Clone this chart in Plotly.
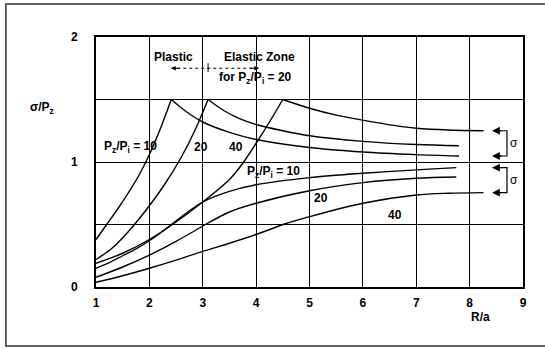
import plotly.graph_objects as go

# ---------------- data ----------------
# tangential stress, plastic zone (rising) and elastic zone (decaying)
r_t10_pl = [1.0, 1.2, 1.4, 1.6, 1.8, 2.0, 2.2, 2.41]
s_t10_pl = [0.38, 0.5, 0.62, 0.75, 0.89, 1.06, 1.26, 1.5]
r_t10_el = [2.41, 2.7, 3.0, 3.5, 4.0, 5.0, 6.0, 7.0, 7.8]
s_t10_el = [1.5, 1.40, 1.32, 1.237, 1.18, 1.116, 1.08, 1.059, 1.048]

r_t20_pl = [1.0, 1.3, 1.6, 2.0, 2.3, 2.6, 2.85, 3.1]
s_t20_pl = [0.22, 0.31, 0.44, 0.65, 0.83, 1.04, 1.25, 1.5]
r_t20_el = [3.1, 3.4, 3.7, 4.0, 4.5, 5.0, 6.0, 7.0, 7.8]
s_t20_el = [1.5, 1.41, 1.345, 1.30, 1.25, 1.21, 1.165, 1.14, 1.13]

r_t40_pl = [1.0, 1.5, 2.0, 2.5, 3.0, 3.5, 3.75, 4.0, 4.25, 4.5]
s_t40_pl = [0.19, 0.27, 0.38, 0.52, 0.68, 0.86, 0.99, 1.15, 1.32, 1.5]
r_t40_el = [4.5, 5.0, 5.5, 6.0, 6.7, 7.0, 7.6, 8.26]
s_t40_el = [1.5, 1.43, 1.375, 1.335, 1.285, 1.27, 1.256, 1.25]

# radial stress
r_r10_pl = [1.0, 1.25, 1.5, 1.75, 2.0, 2.2, 2.41]
s_r10_pl = [0.15, 0.195, 0.25, 0.305, 0.37, 0.43, 0.5]
r_r10_el = [2.41, 3.0, 3.5, 4.0, 5.0, 6.0, 7.0, 7.75]
s_r10_el = [0.5, 0.68, 0.765, 0.818, 0.875, 0.91, 0.937, 0.955]

r_r20_pl = [1.0, 1.5, 2.0, 2.5, 3.05]
s_r20_pl = [0.078, 0.16, 0.255, 0.365, 0.5]
r_r20_el = [3.05, 3.5, 4.0, 5.0, 6.0, 7.0, 7.75]
s_r20_el = [0.5, 0.6, 0.67, 0.77, 0.835, 0.87, 0.88]

r_r40_pl = [1.0, 1.5, 2.0, 2.5, 3.0, 3.5, 4.0, 4.5]
s_r40_pl = [0.038, 0.09, 0.15, 0.215, 0.285, 0.35, 0.42, 0.5]
r_r40_el = [4.5, 5.0, 6.0, 7.0, 7.6, 8.26]
s_r40_el = [0.5, 0.5625, 0.67, 0.736, 0.75, 0.755]

x_ticks = [1, 2, 3, 4, 5, 6, 7, 8, 9]
y_ticks = [0, 0.5, 1, 1.5, 2]
y_ticktext = ["0", "", "1", "", "2"]

FONT = "Arial, Liberation Sans, sans-serif"

fig = go.Figure()
curves = [
    (r_t10_pl, s_t10_pl), (r_t10_el, s_t10_el),
    (r_t20_pl, s_t20_pl), (r_t20_el, s_t20_el),
    (r_t40_pl, s_t40_pl), (r_t40_el, s_t40_el),
    (r_r10_pl, s_r10_pl), (r_r10_el, s_r10_el),
    (r_r20_pl, s_r20_pl), (r_r20_el, s_r20_el),
    (r_r40_pl, s_r40_pl), (r_r40_el, s_r40_el),
]
for xs, ys in curves:
    fig.add_trace(go.Scatter(x=xs, y=ys, mode="lines",
                             line=dict(color="black", width=1.4, shape="spline", smoothing=0.9),
                             showlegend=False, hoverinfo="skip"))

ann = []
def label(text, x, y, size=12, bold=True, xref="x", yref="y"):
    ann.append(dict(text=("<b>%s</b>" % text) if bold else text, x=x, y=y, xref=xref, yref=yref,
                    xanchor="center", yanchor="middle",
                    showarrow=False, font=dict(family=FONT, size=size, color="black")))

label("P<sub>z</sub>/P<sub>i</sub> = 10", 1.64, 1.12)
label("20", 2.97, 1.12)
label("40", 3.62, 1.12)
label("P<sub>z</sub>/P<sub>i</sub> = 10", 4.33, 0.92)
label("20", 5.21, 0.71)
label("40", 6.6, 0.576)
label("Plastic", 2.46, 1.84)
label("Elastic Zone", 4.06, 1.84)
label("for P<sub>z</sub>/P<sub>i</sub> = 20", 3.99, 1.67)
label("σ/P<sub>z</sub>", -0.127, 0.716, xref="paper", yref="paper")
label("R/a", 8.2, -0.12, yref="paper")
label("σ", 8.84, 1.15, size=12, bold=False)
label("σ", 8.84, 0.855, size=12, bold=False)

# plastic / elastic arrow (dotted line with arrow heads)
for hx, tx in [(2.41, 2.6), (4.05, 3.86)]:
    ann.append(dict(x=hx, y=1.75, ax=tx, ay=1.75, xref="x", yref="y", axref="x", ayref="y",
                    text="", showarrow=True, arrowhead=2, arrowsize=0.9, arrowwidth=1, arrowcolor="black"))

# sigma bracket arrow heads
bracket_top = [s_t40_el[-1], s_r10_el[-1]]
bracket_bot = [s_t10_el[-1], s_r40_el[-1]]
for yy in bracket_top + bracket_bot:
    ann.append(dict(x=8.42, y=yy, ax=8.62, ay=yy, xref="x", yref="y", axref="x", ayref="y",
                    text="", showarrow=True, arrowhead=2, arrowsize=1.2, arrowwidth=1.3, arrowcolor="black"))

shapes = []
shapes.append(dict(type="line", x0=2.41, x1=4.05, y0=1.75, y1=1.75, xref="x", yref="y",
                   line=dict(color="black", width=1, dash="dot")))
shapes.append(dict(type="line", x0=3.1, x1=3.1, y0=1.72, y1=1.79, xref="x", yref="y",
                   line=dict(color="black", width=1)))
for yt, yb in zip(bracket_top, bracket_bot):
    shapes.append(dict(type="path", xref="x", yref="y",
                       path="M 8.55 %s L 8.7 %s L 8.7 %s L 8.55 %s" % (yt, yt, yb, yb),
                       line=dict(color="black", width=1.2)))
# outer frame of the figure (right side runs off the picture)
shapes.append(dict(type="rect", xref="paper", yref="paper", x0=-0.211, x1=1.2, y0=-0.236, y1=1.132,
                   line=dict(color="#333", width=1.5)))

fig.update_layout(
    width=545, height=349, autosize=False,
    margin=dict(l=96, r=22, t=37, b=62, pad=0, autoexpand=False),
    paper_bgcolor="white", plot_bgcolor="white",
    annotations=ann, shapes=shapes,
    font=dict(family=FONT, size=12, color="black"),
)
fig.update_xaxes(range=[1, 9], tickvals=x_ticks, ticktext=["<b>%d</b>" % v for v in x_ticks],
                 showgrid=True, gridcolor="black", gridwidth=1.2, zeroline=False,
                 showline=True, mirror=True, linecolor="black", linewidth=1.6,
                 ticks="outside", ticklen=4, tickcolor="rgba(0,0,0,0)", automargin=False,
                 tickfont=dict(family=FONT, size=12, color="black"))
fig.update_yaxes(range=[0, 2], tickvals=y_ticks, ticktext=["<b>%s</b>" % t for t in y_ticktext],
                 showgrid=True, gridcolor="black", gridwidth=1.2, zeroline=False,
                 showline=True, mirror=True, linecolor="black", linewidth=1.6,
                 ticks="outside", ticklen=14, tickcolor="rgba(0,0,0,0)", automargin=False,
                 tickfont=dict(family=FONT, size=12, color="black"))

fig.write_html("out.html", config={"displayModeBar": False},
               post_script="document.body.style.margin='0';")
